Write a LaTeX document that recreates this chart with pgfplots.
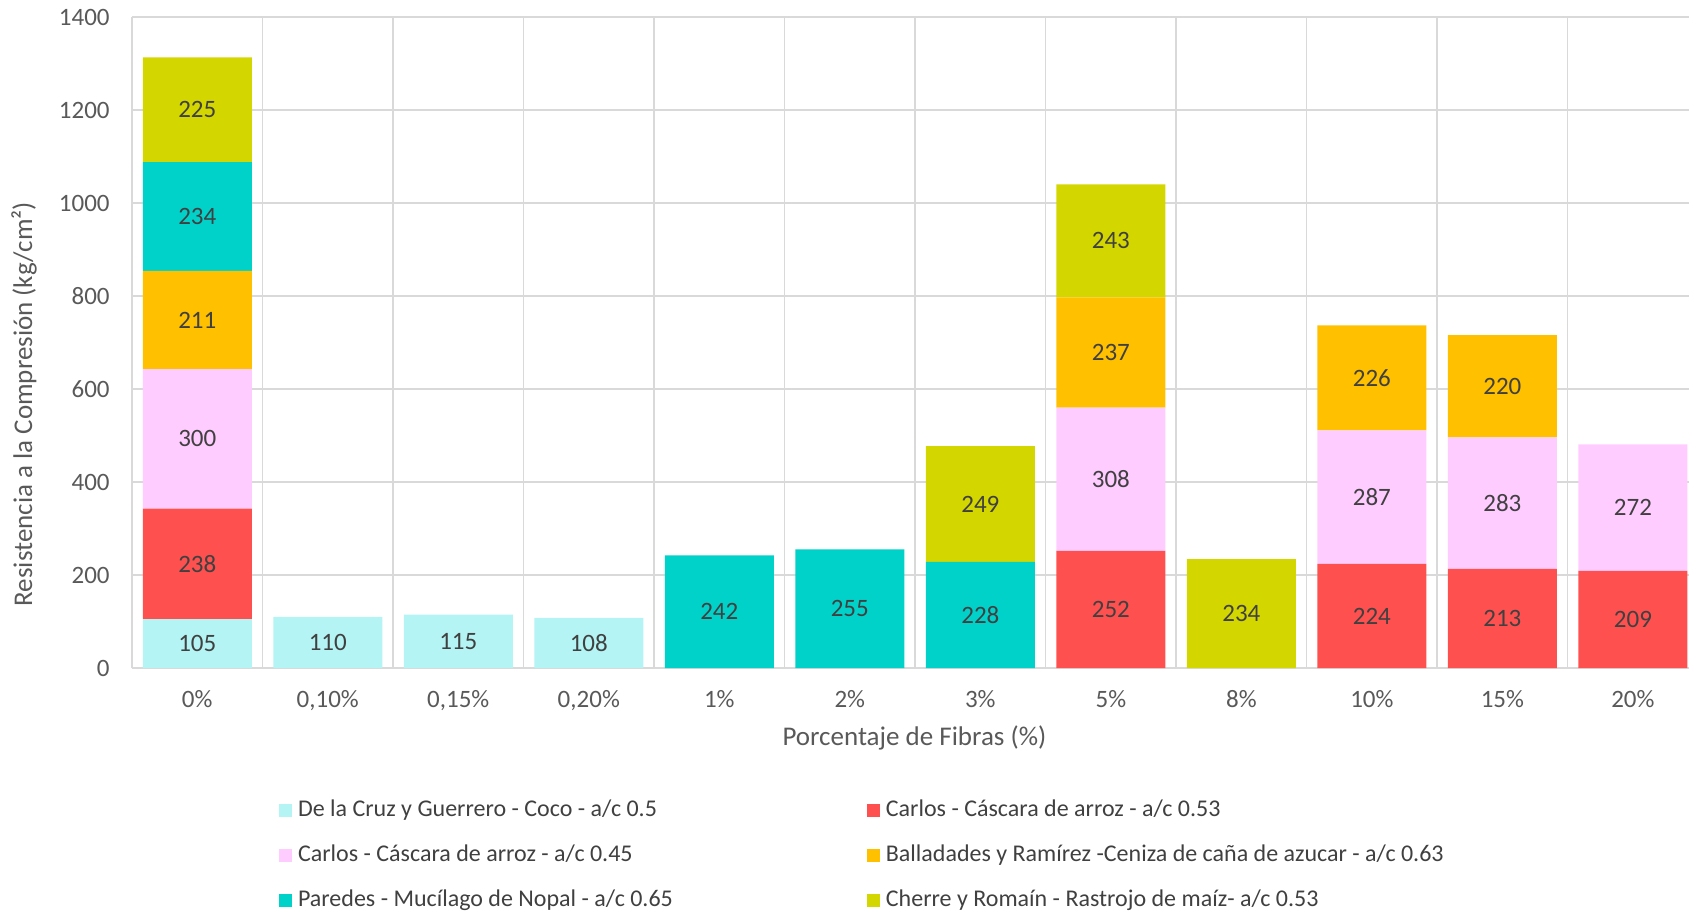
\documentclass[border=0pt]{standalone}
\usepackage{fontspec}
\setmainfont{Carlito}
\usepackage{pgfplots}
\pgfplotsset{compat=1.18}
\usepackage{pgfplotstable}
\definecolor{cLight}{HTML}{B4F4F4}
\definecolor{cRed}{HTML}{FF5050}
\definecolor{cPink}{HTML}{FFCCFF}
\definecolor{cOrange}{HTML}{FFC000}
\definecolor{cTeal}{HTML}{00D2CA}
\definecolor{cOlive}{HTML}{D4D600}
\definecolor{gridc}{HTML}{D9D9D9}
\definecolor{tickc}{HTML}{595959}
\definecolor{lblc}{HTML}{404040}

\pgfplotstableread{
x dlc c53 c45 bal par che
0 105 238 300 211 234 225
1 110 0 0 0 0 0
2 115 0 0 0 0 0
3 108 0 0 0 0 0
4 0 0 0 0 242 0
5 0 0 0 0 255 0
6 0 0 0 0 228 249
7 0 252 308 237 0 243
8 0 0 0 0 0 234
9 0 224 287 226 0 0
10 0 213 283 220 0 0
11 0 209 272 0 0 0
}\datatable

\pgfplotstableread{
x y label
0 52.5 105
0 224 238
0 493 300
0 748.5 211
0 971 234
0 1200.5 225
1 55 110
2 57.5 115
3 54 108
4 121 242
5 127.5 255
6 114 228
6 352.5 249
7 126 252
7 406 308
7 678.5 237
7 918.5 243
8 117 234
9 112 224
9 367.5 287
9 624 226
10 106.5 213
10 354.5 283
10 606 220
11 104.5 209
11 345 272
}\labeltable

\newcommand{\fs}{\fontsize{12.5}{15}\selectfont}
\newcommand{\fg}{\fontsize{12}{14.4}\selectfont}
\newcommand{\fl}{\fontsize{13.5}{16}\selectfont}

\pgfplotsset{
  base/.style={
    at={(0,0)}, anchor=south west, scale only axis,
    width=778.5pt, height=325.5pt,
    xmin=-0.5, xmax=11.43, ymin=0, ymax=1400,
  },
}

\begin{document}
\begin{tikzpicture}
\begin{axis}[base,
  ybar stacked, bar width=54.5pt, bar shift=0pt,
  axis x line*=bottom, axis y line*=left,
  y axis line style={draw=none},
  x axis line style={draw=gridc, line width=0.9pt},
  xtick={0,...,11},
  xticklabels={0\%,{0,10\%},{0,15\%},{0,20\%},1\%,2\%,3\%,5\%,8\%,10\%,15\%,20\%},
  minor xtick={-0.5,0.5,...,10.5},
  xminorgrids=true, xmajorgrids=false,
  ytick={0,200,...,1400},
  ymajorgrids=true,
  grid style={draw=gridc, line width=0.75pt},
  minor grid style={draw=gridc, line width=0.75pt},
  major tick length=0pt, minor tick length=0pt,
  /pgf/number format/assume math mode=true,
  /pgf/number format/1000 sep={},
  ticklabel style={font=\fs, text=tickc},
  xticklabel style={anchor=base, yshift=-19.5pt},
  yticklabel style={anchor=east, inner sep=0pt, xshift=-11pt},
  xlabel={Porcentaje de Fibras (\%)},
  ylabel={Resistencia a la Compresión (kg/cm²)},
  every axis x label/.style={at={(axis description cs:0.5025,-0.1075)}, anchor=center, font=\fl, text=tickc},
  every axis y label/.style={at={(axis description cs:-0.0694,0.4055)}, anchor=center, rotate=90, font=\fl, text=tickc},
  legend columns=2,
  legend cell align=left,
  legend image code/.code={\fill[#1] (0pt,-3.25pt) rectangle (6.5pt,3.25pt);},
  legend style={at={(axis description cs:0.0903,-0.1935)}, anchor=north west,
    draw=none, fill=none, font=\fg, text=lblc,
    nodes={inner sep=0pt, text height=9pt, text depth=3pt},
    row sep=10.5pt,
    /tikz/every odd column/.append style={column sep=3pt},
    /tikz/every even column/.append style={column sep=97pt}},
]
\addplot[fill=cLight, draw=none] table[x=x, y=dlc]{\datatable};
\addlegendentry{De la Cruz y Guerrero - Coco - a/c 0.5}
\addplot[fill=cRed, draw=none] table[x=x, y=c53]{\datatable};
\addlegendentry{Carlos - Cáscara de arroz - a/c 0.53}
\addplot[fill=cPink, draw=none] table[x=x, y=c45]{\datatable};
\addlegendentry{Carlos - Cáscara de arroz - a/c 0.45}
\addplot[fill=cOrange, draw=none] table[x=x, y=bal]{\datatable};
\addlegendentry{Balladades y Ramírez -Ceniza de caña de azucar - a/c 0.63}
\addplot[fill=cTeal, draw=none] table[x=x, y=par]{\datatable};
\addlegendentry{Paredes - Mucílago de Nopal - a/c 0.65}
\addplot[fill=cOlive, draw=none] table[x=x, y=che]{\datatable};
\addlegendentry{Cherre y Romaín - Rastrojo de maíz- a/c 0.53}
\end{axis}
\begin{axis}[base, hide axis, clip=false]
\addplot[draw=none, mark=none, nodes near coords, point meta=explicit symbolic,
  every node near coord/.append style={anchor=center, font=\fs, text=lblc}]
  table[x=x, y=y, meta=label]{\labeltable};
\end{axis}
\pgfresetboundingbox
\useasboundingbox (-66pt,-122pt) rectangle (778.5pt,334pt);
\end{tikzpicture}
\end{document}
